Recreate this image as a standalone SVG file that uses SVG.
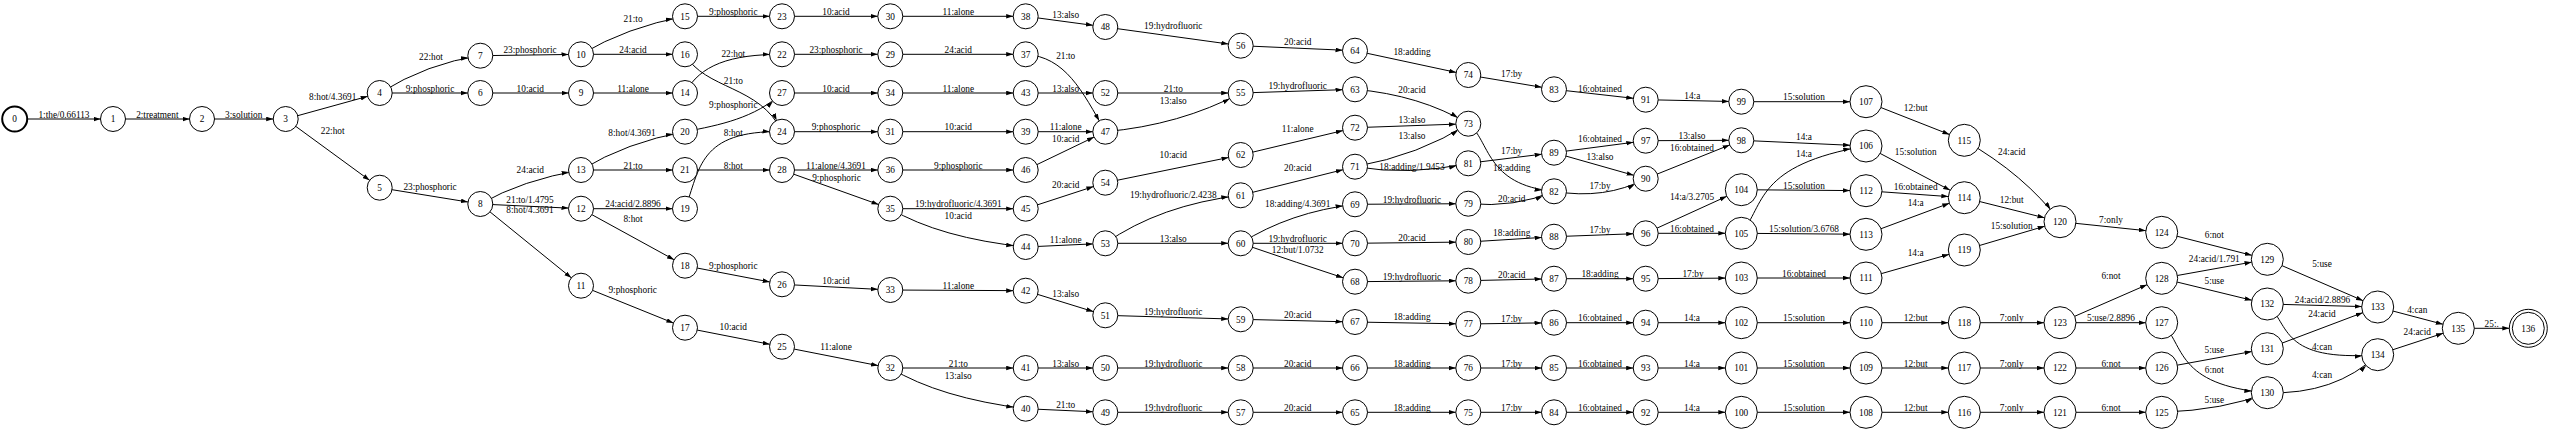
<svg xmlns="http://www.w3.org/2000/svg" width="2550" height="431" viewBox="0 0 2550 431">
<style>
text{font-family:"Liberation Serif","Times New Roman",serif;font-size:9.3px;fill:#000}
#edges path{fill:none;stroke:#000;stroke-width:1}
#edges text{text-anchor:middle}
.n circle{fill:#fff;stroke:#000;stroke-width:1}
.n text{text-anchor:middle}
</style>
<defs>
<marker id="a12" markerUnits="userSpaceOnUse" markerWidth="8" markerHeight="5" refX="19.5" refY="2.3" orient="auto"><path d="M0,0L7,2.3L0,4.6z" fill="#000"/></marker>
<marker id="a16" markerUnits="userSpaceOnUse" markerWidth="8" markerHeight="5" refX="23" refY="2.3" orient="auto"><path d="M0,0L7,2.3L0,4.6z" fill="#000"/></marker>
<marker id="a19" markerUnits="userSpaceOnUse" markerWidth="8" markerHeight="5" refX="26" refY="2.3" orient="auto"><path d="M0,0L7,2.3L0,4.6z" fill="#000"/></marker>
</defs>
<rect width="2550" height="431" fill="#fff"/>
<g id="edges">
<path d="M14.7,119L113,119" marker-end="url(#a12)"/><text x="64" y="117.5">1:the/0.66113</text>
<path d="M113,119L202,119" marker-end="url(#a12)"/><text x="157.3" y="117.5">2:treatment</text>
<path d="M202,119L285.7,119" marker-end="url(#a12)"/><text x="243.7" y="117.5">3:solution</text>
<path d="M285.7,119L379.7,93" marker-end="url(#a12)"/><text x="332.7" y="100">8:hot/4.3691</text>
<path d="M285.7,119L379.7,187.7" marker-end="url(#a12)"/><text x="332.7" y="134">22:hot</text>
<path d="M379.7,93Q428,63 480.3,55.7" marker-end="url(#a12)"/><text x="431" y="60">22:hot</text>
<path d="M379.7,93L480.3,93" marker-end="url(#a12)"/><text x="430" y="91.5">9:phosphoric</text>
<path d="M379.7,187.7L480.3,204" marker-end="url(#a12)"/><text x="430" y="190">23:phosphoric</text>
<path d="M480.3,55.7L581,54.3" marker-end="url(#a12)"/><text x="530" y="53">23:phosphoric</text>
<path d="M480.3,93L581,93" marker-end="url(#a12)"/><text x="530.3" y="91.5">10:acid</text>
<path d="M480.3,204Q522,180 581,170" marker-end="url(#a12)"/><text x="530.3" y="173">24:acid</text>
<path d="M480.3,204L581,208.7" marker-end="url(#a12)"/><text x="530" y="203">21:to/1.4795</text>
<path d="M480.3,204L581,285.7" marker-end="url(#a12)"/><text x="530" y="212.5">8:hot/4.3691</text>
<path d="M581,54.3Q627,27 685,16.3" marker-end="url(#a12)"/><text x="633" y="21.5">21:to</text>
<path d="M581,54.3L685,54.3" marker-end="url(#a12)"/><text x="633" y="53">24:acid</text>
<path d="M581,93L685,93" marker-end="url(#a12)"/><text x="633" y="91.5">11:alone</text>
<path d="M581,170Q627,142 685,131.7" marker-end="url(#a12)"/><text x="632" y="136">8:hot/4.3691</text>
<path d="M581,170L685,170" marker-end="url(#a12)"/><text x="633" y="168.5">21:to</text>
<path d="M581,208.7L685,208.7" marker-end="url(#a12)"/><text x="633" y="207">24:acid/2.8896</text>
<path d="M581,208.7L685,265.7" marker-end="url(#a12)"/><text x="633" y="221.5">8:hot</text>
<path d="M581,285.7L685,327.7" marker-end="url(#a12)"/><text x="632.7" y="293">9:phosphoric</text>
<path d="M685,16.3L782,16.3" marker-end="url(#a12)"/><text x="733.3" y="15">9:phosphoric</text>
<path d="M685,54.3C705,90 760,85 782,131.7" marker-end="url(#a12)"/><text x="733.3" y="84">21:to</text>
<path d="M685,93C700,65 730,54.3 782,54.3" marker-end="url(#a12)"/><text x="733.3" y="56.5">22:hot</text>
<path d="M685,131.7C720,125 755,118 782,93" marker-end="url(#a12)"/><text x="733.3" y="107.5">9:phosphoric</text>
<path d="M685,208.7C700,170 698,130 782,131.7" marker-end="url(#a12)"/><text x="733.3" y="136">8:hot</text>
<path d="M685,170L782,170" marker-end="url(#a12)"/><text x="733.3" y="168.5">8:hot</text>
<path d="M685,265.7L782,284.3" marker-end="url(#a12)"/><text x="733.3" y="268.5">9:phosphoric</text>
<path d="M685,327.7L782,346.7" marker-end="url(#a12)"/><text x="733.3" y="330">10:acid</text>
<path d="M782,16.3L890.3,16.3" marker-end="url(#a12)"/><text x="836" y="15">10:acid</text>
<path d="M782,54.3L890.3,54.3" marker-end="url(#a12)"/><text x="836" y="53">23:phosphoric</text>
<path d="M782,93L890.3,93" marker-end="url(#a12)"/><text x="836" y="91.5">10:acid</text>
<path d="M782,131.7L890.3,131.7" marker-end="url(#a12)"/><text x="836" y="130">9:phosphoric</text>
<path d="M782,170L890.3,170" marker-end="url(#a12)"/><text x="836" y="168.5">11:alone/4.3691</text>
<path d="M782,170L890.3,208.7" marker-end="url(#a12)"/><text x="836.5" y="181">9:phosphoric</text>
<path d="M782,284.3L890.3,290" marker-end="url(#a12)"/><text x="836" y="284">10:acid</text>
<path d="M782,346.7L890.3,368" marker-end="url(#a12)"/><text x="836" y="350">11:alone</text>
<path d="M890.3,16.3L1025.7,16.3" marker-end="url(#a12)"/><text x="958.3" y="15">11:alone</text>
<path d="M890.3,54.3L1025.7,54.3" marker-end="url(#a12)"/><text x="958.3" y="53">24:acid</text>
<path d="M890.3,93L1025.7,93" marker-end="url(#a12)"/><text x="958.3" y="91.5">11:alone</text>
<path d="M890.3,131.7L1025.7,131.7" marker-end="url(#a12)"/><text x="958.3" y="130">10:acid</text>
<path d="M890.3,170L1025.7,170" marker-end="url(#a12)"/><text x="958.3" y="168.5">9:phosphoric</text>
<path d="M890.3,208.7L1025.7,208.7" marker-end="url(#a12)"/><text x="958.3" y="207">19:hydrofluoric/4.3691</text>
<path d="M890.3,208.7Q940,238 1025.7,247" marker-end="url(#a12)"/><text x="958.3" y="219">10:acid</text>
<path d="M890.3,290L1025.7,290.7" marker-end="url(#a12)"/><text x="958.3" y="288.5">11:alone</text>
<path d="M890.3,368L1025.7,368" marker-end="url(#a12)"/><text x="958.3" y="366.5">21:to</text>
<path d="M890.3,368Q940,398 1025.7,408.7" marker-end="url(#a12)"/><text x="958.3" y="379">13:also</text>
<path d="M1025.7,16.3L1105.3,27" marker-end="url(#a12)"/><text x="1065.7" y="17.5">13:also</text>
<path d="M1025.7,54.3C1065,57 1082,90 1105.3,131.7" marker-end="url(#a12)"/><text x="1065.7" y="59">21:to</text>
<path d="M1025.7,93L1105.3,93" marker-end="url(#a12)"/><text x="1065.7" y="91.5">13:also</text>
<path d="M1025.7,131.7L1105.3,131.7" marker-end="url(#a12)"/><text x="1065.7" y="130">11:alone</text>
<path d="M1025.7,170L1105.3,131.7" marker-end="url(#a12)"/><text x="1065.7" y="141.5">10:acid</text>
<path d="M1025.7,208.7L1105.3,182.7" marker-end="url(#a12)"/><text x="1065.7" y="188">20:acid</text>
<path d="M1025.7,247L1105.3,243.3" marker-end="url(#a12)"/><text x="1065.7" y="243">11:alone</text>
<path d="M1025.7,290.7L1105.3,315.3" marker-end="url(#a12)"/><text x="1065.7" y="296.5">13:also</text>
<path d="M1025.7,368L1105.3,368" marker-end="url(#a12)"/><text x="1065.7" y="366.5">13:also</text>
<path d="M1025.7,408.7L1105.3,412.3" marker-end="url(#a12)"/><text x="1065.7" y="408">21:to</text>
<path d="M1105.3,27L1240.7,45.7" marker-end="url(#a12)"/><text x="1173.3" y="29">19:hydrofluoric</text>
<path d="M1105.3,93L1240.7,93" marker-end="url(#a12)"/><text x="1173.3" y="91.5">21:to</text>
<path d="M1105.3,131.7Q1180,125 1240.7,93" marker-end="url(#a12)"/><text x="1173.3" y="104">13:also</text>
<path d="M1105.3,182.7L1240.7,155" marker-end="url(#a12)"/><text x="1173.3" y="158">10:acid</text>
<path d="M1105.3,243.3Q1160,205 1240.7,195.3" marker-end="url(#a12)"/><text x="1173.3" y="198">19:hydrofluoric/2.4238</text>
<path d="M1105.3,243.3L1240.7,243.3" marker-end="url(#a12)"/><text x="1173.3" y="241.8">13:also</text>
<path d="M1105.3,315.3L1240.7,319.3" marker-end="url(#a12)"/><text x="1173.3" y="315">19:hydrofluoric</text>
<path d="M1105.3,368L1240.7,368" marker-end="url(#a12)"/><text x="1173.3" y="366.5">19:hydrofluoric</text>
<path d="M1105.3,412.3L1240.7,412.3" marker-end="url(#a12)"/><text x="1173.3" y="410.5">19:hydrofluoric</text>
<path d="M1240.7,45.7L1355,50.7" marker-end="url(#a12)"/><text x="1297.7" y="45">20:acid</text>
<path d="M1240.7,93L1355,89.3" marker-end="url(#a12)"/><text x="1297.7" y="89">19:hydrofluoric</text>
<path d="M1240.7,155L1355,127.7" marker-end="url(#a12)"/><text x="1297.7" y="132">11:alone</text>
<path d="M1240.7,195.3L1355,166.7" marker-end="url(#a12)"/><text x="1297.7" y="171">20:acid</text>
<path d="M1240.7,243.3Q1290,212 1355,204.3" marker-end="url(#a12)"/><text x="1297.7" y="207">18:adding/4.3691</text>
<path d="M1240.7,243.3L1355,243.3" marker-end="url(#a12)"/><text x="1297.7" y="241.8">19:hydrofluoric</text>
<path d="M1240.7,243.3Q1295,262 1355,281.7" marker-end="url(#a12)"/><text x="1297.7" y="253">12:but/1.0732</text>
<path d="M1240.7,319.3L1355,322" marker-end="url(#a12)"/><text x="1297.7" y="318">20:acid</text>
<path d="M1240.7,368L1355,368" marker-end="url(#a12)"/><text x="1297.7" y="366.5">20:acid</text>
<path d="M1240.7,412.3L1355,412.3" marker-end="url(#a12)"/><text x="1297.7" y="410.5">20:acid</text>
<path d="M1355,50.7L1468.3,75" marker-end="url(#a12)"/><text x="1412" y="55">18:adding</text>
<path d="M1355,89.3Q1420,95 1468.3,123.7" marker-end="url(#a12)"/><text x="1412" y="92.5">20:acid</text>
<path d="M1355,127.7L1468.3,123.7" marker-end="url(#a12)"/><text x="1412" y="123">13:also</text>
<path d="M1355,166.7Q1420,155 1468.3,123.7" marker-end="url(#a12)"/><text x="1412" y="138.5">13:also</text>
<path d="M1355,166.7Q1410,176 1468.3,163.3" marker-end="url(#a12)"/><text x="1412" y="169.5">18:adding/1.9453</text>
<path d="M1355,204.3L1468.3,203.7" marker-end="url(#a12)"/><text x="1412" y="202.5">19:hydrofluoric</text>
<path d="M1355,243.3L1468.3,242" marker-end="url(#a12)"/><text x="1412" y="241">20:acid</text>
<path d="M1355,281.7L1468.3,280.7" marker-end="url(#a12)"/><text x="1412" y="279.5">19:hydrofluoric</text>
<path d="M1355,322L1468.3,324" marker-end="url(#a12)"/><text x="1412" y="320">18:adding</text>
<path d="M1355,368L1468.3,368" marker-end="url(#a12)"/><text x="1412" y="366.5">18:adding</text>
<path d="M1355,412.3L1468.3,412.3" marker-end="url(#a12)"/><text x="1412" y="410.5">18:adding</text>
<path d="M1468.3,75L1554,89.3" marker-end="url(#a12)"/><text x="1511.7" y="76.5">17:by</text>
<path d="M1468.3,123.7C1490,140 1485,185 1554,191.3" marker-end="url(#a12)"/><text x="1511.7" y="171">18:adding</text>
<path d="M1468.3,163.3L1554,152.7" marker-end="url(#a12)"/><text x="1511.7" y="154">17:by</text>
<path d="M1468.3,203.7Q1515,208 1554,191.3" marker-end="url(#a12)"/><text x="1511.7" y="202">20:acid</text>
<path d="M1468.3,242L1554,236.7" marker-end="url(#a12)"/><text x="1511.7" y="236">18:adding</text>
<path d="M1468.3,280.7L1554,278.7" marker-end="url(#a12)"/><text x="1511.7" y="278">20:acid</text>
<path d="M1468.3,324L1554,322.7" marker-end="url(#a12)"/><text x="1511.7" y="322">17:by</text>
<path d="M1468.3,368L1554,368" marker-end="url(#a12)"/><text x="1511.7" y="366.5">17:by</text>
<path d="M1468.3,412.3L1554,412.3" marker-end="url(#a12)"/><text x="1511.7" y="410.5">17:by</text>
<path d="M1554,89.3L1645.7,99.7" marker-end="url(#a12)"/><text x="1600" y="91.5">16:obtained</text>
<path d="M1554,152.7L1645.7,140.7" marker-end="url(#a12)"/><text x="1600" y="142">16:obtained</text>
<path d="M1554,152.7L1645.7,178.7" marker-end="url(#a12)"/><text x="1600" y="160">13:also</text>
<path d="M1554,191.3Q1605,200 1645.7,178.7" marker-end="url(#a12)"/><text x="1600" y="189">17:by</text>
<path d="M1554,236.7L1645.7,233.3" marker-end="url(#a12)"/><text x="1600" y="233">17:by</text>
<path d="M1554,278.7L1645.7,278.7" marker-end="url(#a12)"/><text x="1600" y="277.2">18:adding</text>
<path d="M1554,322.7L1645.7,322.7" marker-end="url(#a12)"/><text x="1600" y="321.2">16:obtained</text>
<path d="M1554,368L1645.7,368" marker-end="url(#a12)"/><text x="1600" y="366.5">16:obtained</text>
<path d="M1554,412.3L1645.7,412.3" marker-end="url(#a12)"/><text x="1600" y="410.5">16:obtained</text>
<path d="M1645.7,99.7L1741.3,101.7" marker-end="url(#a12)"/><text x="1692.3" y="98.5">14:a</text>
<path d="M1645.7,140.7L1741.3,140.3" marker-end="url(#a12)"/><text x="1692" y="139">13:also</text>
<path d="M1645.7,178.7L1741.3,140.3" marker-end="url(#a12)"/><text x="1692" y="151">16:obtained</text>
<path d="M1645.7,233.3L1741.3,189.7" marker-end="url(#a16)"/><text x="1692" y="200">14:a/3.2705</text>
<path d="M1645.7,233.3L1741.3,233.3" marker-end="url(#a16)"/><text x="1692" y="231.8">16:obtained</text>
<path d="M1645.7,278.7L1741.3,278" marker-end="url(#a16)"/><text x="1693" y="277">17:by</text>
<path d="M1645.7,322.7L1741.3,322.7" marker-end="url(#a16)"/><text x="1692" y="321.2">14:a</text>
<path d="M1645.7,368L1741.3,368" marker-end="url(#a16)"/><text x="1692" y="366.5">14:a</text>
<path d="M1645.7,412.3L1741.3,412.3" marker-end="url(#a16)"/><text x="1692" y="410.5">14:a</text>
<path d="M1741.3,101.7L1866,101.7" marker-end="url(#a16)"/><text x="1804" y="100.2">15:solution</text>
<path d="M1741.3,140.3L1866,146" marker-end="url(#a16)"/><text x="1804" y="140">14:a</text>
<path d="M1741.3,233.3C1765,205 1755,165 1866,146" marker-end="url(#a16)"/><text x="1804" y="156.5">14:a</text>
<path d="M1741.3,189.7L1866,190.7" marker-end="url(#a16)"/><text x="1804" y="188.5">15:solution</text>
<path d="M1741.3,233.3L1866,234.3" marker-end="url(#a16)"/><text x="1804" y="232">15:solution/3.6768</text>
<path d="M1741.3,278L1866,278" marker-end="url(#a16)"/><text x="1804" y="276.5">16:obtained</text>
<path d="M1741.3,322.7L1866,322.7" marker-end="url(#a16)"/><text x="1804" y="321.2">15:solution</text>
<path d="M1741.3,368L1866,368" marker-end="url(#a16)"/><text x="1804" y="366.5">15:solution</text>
<path d="M1741.3,412.3L1866,412.3" marker-end="url(#a16)"/><text x="1804" y="410.5">15:solution</text>
<path d="M1866,101.7L1964.3,140.3" marker-end="url(#a16)"/><text x="1915.7" y="110.5">12:but</text>
<path d="M1866,146L1964.3,197.7" marker-end="url(#a16)"/><text x="1915.7" y="155">15:solution</text>
<path d="M1866,190.7L1964.3,197.7" marker-end="url(#a16)"/><text x="1915.7" y="190">16:obtained</text>
<path d="M1866,234.3L1964.3,197.7" marker-end="url(#a16)"/><text x="1915.7" y="205.5">14:a</text>
<path d="M1866,278L1964.3,250" marker-end="url(#a16)"/><text x="1915.7" y="256">14:a</text>
<path d="M1866,322.7L1964.3,322.7" marker-end="url(#a16)"/><text x="1915.7" y="321.2">12:but</text>
<path d="M1866,368L1964.3,368" marker-end="url(#a16)"/><text x="1915.7" y="366.5">12:but</text>
<path d="M1866,412.3L1964.3,412.3" marker-end="url(#a16)"/><text x="1915.7" y="410.5">12:but</text>
<path d="M1964.3,140.3Q2025,175 2060,221.7" marker-end="url(#a16)"/><text x="2011.7" y="155">24:acid</text>
<path d="M1964.3,197.7L2060,221.7" marker-end="url(#a16)"/><text x="2011.7" y="203">12:but</text>
<path d="M1964.3,250L2060,221.7" marker-end="url(#a16)"/><text x="2011.7" y="229">15:solution</text>
<path d="M1964.3,322.7L2060,322.7" marker-end="url(#a16)"/><text x="2011.7" y="321.2">7:only</text>
<path d="M1964.3,368L2060,368" marker-end="url(#a16)"/><text x="2011.7" y="366.5">7:only</text>
<path d="M1964.3,412.3L2060,412.3" marker-end="url(#a16)"/><text x="2011.7" y="410.5">7:only</text>
<path d="M2060,221.7L2161.7,232.3" marker-end="url(#a16)"/><text x="2111" y="223">7:only</text>
<path d="M2060,322.7L2161.7,278.3" marker-end="url(#a16)"/><text x="2111" y="279">6:not</text>
<path d="M2060,322.7L2161.7,322.7" marker-end="url(#a16)"/><text x="2111" y="321.2">5:use/2.8896</text>
<path d="M2060,368L2161.7,368" marker-end="url(#a16)"/><text x="2111" y="366.5">6:not</text>
<path d="M2060,412.3L2161.7,412.3" marker-end="url(#a16)"/><text x="2111" y="410.5">6:not</text>
<path d="M2161.7,232.3L2267.3,259.3" marker-end="url(#a16)"/><text x="2214.3" y="238">6:not</text>
<path d="M2161.7,278.3L2267.3,259.3" marker-end="url(#a16)"/><text x="2214.3" y="262">24:acid/1.791</text>
<path d="M2161.7,278.3L2267.3,304" marker-end="url(#a16)"/><text x="2214.3" y="284">5:use</text>
<path d="M2161.7,322.7C2185,345 2175,385 2267.3,392.7" marker-end="url(#a16)"/><text x="2214.3" y="373">6:not</text>
<path d="M2161.7,368L2267.3,348.7" marker-end="url(#a16)"/><text x="2214.3" y="352.5">5:use</text>
<path d="M2161.7,412.3Q2225,410 2267.3,392.7" marker-end="url(#a16)"/><text x="2214.3" y="402.5">5:use</text>
<path d="M2267.3,259.3L2377.7,307" marker-end="url(#a16)"/><text x="2322" y="267">5:use</text>
<path d="M2267.3,304L2377.7,307" marker-end="url(#a16)"/><text x="2322.5" y="303">24:acid/2.8896</text>
<path d="M2267.3,348.7L2377.7,307" marker-end="url(#a16)"/><text x="2322" y="317">24:acid</text>
<path d="M2267.3,304C2290,325 2280,362 2377.7,354.7" marker-end="url(#a16)"/><text x="2322" y="350">4:can</text>
<path d="M2267.3,392.7Q2335,395 2377.7,354.7" marker-end="url(#a16)"/><text x="2322" y="378">4:can</text>
<path d="M2377.7,307L2458.3,328.3" marker-end="url(#a16)"/><text x="2417.3" y="313">4:can</text>
<path d="M2377.7,354.7L2458.3,328.3" marker-end="url(#a16)"/><text x="2417.3" y="335">24:acid</text>
<path d="M2458.3,328.3L2528.3,328.3" marker-end="url(#a19)"/><text x="2491.7" y="327">25:.</text>
</g>
<g id="n0" class="n"><circle cx="14.7" cy="119" r="12.5" style="stroke-width:2"/><text x="14.7" y="122.2">0</text></g>
<g id="n1" class="n"><circle cx="113" cy="119" r="12.5"/><text x="113" y="122.2">1</text></g>
<g id="n2" class="n"><circle cx="202" cy="119" r="12.5"/><text x="202" y="122.2">2</text></g>
<g id="n3" class="n"><circle cx="285.7" cy="119" r="12.5"/><text x="285.7" y="122.2">3</text></g>
<g id="n4" class="n"><circle cx="379.7" cy="93" r="12.5"/><text x="379.7" y="96.2">4</text></g>
<g id="n5" class="n"><circle cx="379.7" cy="187.7" r="12.5"/><text x="379.7" y="190.9">5</text></g>
<g id="n6" class="n"><circle cx="480.3" cy="93" r="12.5"/><text x="480.3" y="96.2">6</text></g>
<g id="n7" class="n"><circle cx="480.3" cy="55.7" r="12.5"/><text x="480.3" y="58.9">7</text></g>
<g id="n8" class="n"><circle cx="480.3" cy="204" r="12.5"/><text x="480.3" y="207.2">8</text></g>
<g id="n9" class="n"><circle cx="581" cy="93" r="12.5"/><text x="581" y="96.2">9</text></g>
<g id="n10" class="n"><circle cx="581" cy="54.3" r="12.5"/><text x="581" y="57.5">10</text></g>
<g id="n11" class="n"><circle cx="581" cy="285.7" r="12.5"/><text x="581" y="288.9">11</text></g>
<g id="n12" class="n"><circle cx="581" cy="208.7" r="12.5"/><text x="581" y="211.9">12</text></g>
<g id="n13" class="n"><circle cx="581" cy="170" r="12.5"/><text x="581" y="173.2">13</text></g>
<g id="n14" class="n"><circle cx="685" cy="93" r="12.5"/><text x="685" y="96.2">14</text></g>
<g id="n15" class="n"><circle cx="685" cy="16.3" r="12.5"/><text x="685" y="19.5">15</text></g>
<g id="n16" class="n"><circle cx="685" cy="54.3" r="12.5"/><text x="685" y="57.5">16</text></g>
<g id="n17" class="n"><circle cx="685" cy="327.7" r="12.5"/><text x="685" y="330.9">17</text></g>
<g id="n18" class="n"><circle cx="685" cy="265.7" r="12.5"/><text x="685" y="268.9">18</text></g>
<g id="n19" class="n"><circle cx="685" cy="208.7" r="12.5"/><text x="685" y="211.9">19</text></g>
<g id="n20" class="n"><circle cx="685" cy="131.7" r="12.5"/><text x="685" y="134.9">20</text></g>
<g id="n21" class="n"><circle cx="685" cy="170" r="12.5"/><text x="685" y="173.2">21</text></g>
<g id="n22" class="n"><circle cx="782" cy="54.3" r="12.5"/><text x="782" y="57.5">22</text></g>
<g id="n23" class="n"><circle cx="782" cy="16.3" r="12.5"/><text x="782" y="19.5">23</text></g>
<g id="n24" class="n"><circle cx="782" cy="131.7" r="12.5"/><text x="782" y="134.9">24</text></g>
<g id="n25" class="n"><circle cx="782" cy="346.7" r="12.5"/><text x="782" y="349.9">25</text></g>
<g id="n26" class="n"><circle cx="782" cy="284.3" r="12.5"/><text x="782" y="287.5">26</text></g>
<g id="n27" class="n"><circle cx="782" cy="93" r="12.5"/><text x="782" y="96.2">27</text></g>
<g id="n28" class="n"><circle cx="782" cy="170" r="12.5"/><text x="782" y="173.2">28</text></g>
<g id="n29" class="n"><circle cx="890.3" cy="54.3" r="12.5"/><text x="890.3" y="57.5">29</text></g>
<g id="n30" class="n"><circle cx="890.3" cy="16.3" r="12.5"/><text x="890.3" y="19.5">30</text></g>
<g id="n31" class="n"><circle cx="890.3" cy="131.7" r="12.5"/><text x="890.3" y="134.9">31</text></g>
<g id="n32" class="n"><circle cx="890.3" cy="368" r="12.5"/><text x="890.3" y="371.2">32</text></g>
<g id="n33" class="n"><circle cx="890.3" cy="290" r="12.5"/><text x="890.3" y="293.2">33</text></g>
<g id="n34" class="n"><circle cx="890.3" cy="93" r="12.5"/><text x="890.3" y="96.2">34</text></g>
<g id="n35" class="n"><circle cx="890.3" cy="208.7" r="12.5"/><text x="890.3" y="211.9">35</text></g>
<g id="n36" class="n"><circle cx="890.3" cy="170" r="12.5"/><text x="890.3" y="173.2">36</text></g>
<g id="n37" class="n"><circle cx="1025.7" cy="54.3" r="12.5"/><text x="1025.7" y="57.5">37</text></g>
<g id="n38" class="n"><circle cx="1025.7" cy="16.3" r="12.5"/><text x="1025.7" y="19.5">38</text></g>
<g id="n39" class="n"><circle cx="1025.7" cy="131.7" r="12.5"/><text x="1025.7" y="134.9">39</text></g>
<g id="n40" class="n"><circle cx="1025.7" cy="408.7" r="12.5"/><text x="1025.7" y="411.9">40</text></g>
<g id="n41" class="n"><circle cx="1025.7" cy="368" r="12.5"/><text x="1025.7" y="371.2">41</text></g>
<g id="n42" class="n"><circle cx="1025.7" cy="290.7" r="12.5"/><text x="1025.7" y="293.9">42</text></g>
<g id="n43" class="n"><circle cx="1025.7" cy="93" r="12.5"/><text x="1025.7" y="96.2">43</text></g>
<g id="n44" class="n"><circle cx="1025.7" cy="247" r="12.5"/><text x="1025.7" y="250.2">44</text></g>
<g id="n45" class="n"><circle cx="1025.7" cy="208.7" r="12.5"/><text x="1025.7" y="211.9">45</text></g>
<g id="n46" class="n"><circle cx="1025.7" cy="170" r="12.5"/><text x="1025.7" y="173.2">46</text></g>
<g id="n47" class="n"><circle cx="1105.3" cy="131.7" r="12.5"/><text x="1105.3" y="134.9">47</text></g>
<g id="n48" class="n"><circle cx="1105.3" cy="27" r="12.5"/><text x="1105.3" y="30.2">48</text></g>
<g id="n49" class="n"><circle cx="1105.3" cy="412.3" r="12.5"/><text x="1105.3" y="415.5">49</text></g>
<g id="n50" class="n"><circle cx="1105.3" cy="368" r="12.5"/><text x="1105.3" y="371.2">50</text></g>
<g id="n51" class="n"><circle cx="1105.3" cy="315.3" r="12.5"/><text x="1105.3" y="318.5">51</text></g>
<g id="n52" class="n"><circle cx="1105.3" cy="93" r="12.5"/><text x="1105.3" y="96.2">52</text></g>
<g id="n53" class="n"><circle cx="1105.3" cy="243.3" r="12.5"/><text x="1105.3" y="246.5">53</text></g>
<g id="n54" class="n"><circle cx="1105.3" cy="182.7" r="12.5"/><text x="1105.3" y="185.9">54</text></g>
<g id="n55" class="n"><circle cx="1240.7" cy="93" r="12.5"/><text x="1240.7" y="96.2">55</text></g>
<g id="n56" class="n"><circle cx="1240.7" cy="45.7" r="12.5"/><text x="1240.7" y="48.9">56</text></g>
<g id="n57" class="n"><circle cx="1240.7" cy="412.3" r="12.5"/><text x="1240.7" y="415.5">57</text></g>
<g id="n58" class="n"><circle cx="1240.7" cy="368" r="12.5"/><text x="1240.7" y="371.2">58</text></g>
<g id="n59" class="n"><circle cx="1240.7" cy="319.3" r="12.5"/><text x="1240.7" y="322.5">59</text></g>
<g id="n60" class="n"><circle cx="1240.7" cy="243.3" r="12.5"/><text x="1240.7" y="246.5">60</text></g>
<g id="n61" class="n"><circle cx="1240.7" cy="195.3" r="12.5"/><text x="1240.7" y="198.5">61</text></g>
<g id="n62" class="n"><circle cx="1240.7" cy="155" r="12.5"/><text x="1240.7" y="158.2">62</text></g>
<g id="n63" class="n"><circle cx="1355" cy="89.3" r="12.5"/><text x="1355" y="92.5">63</text></g>
<g id="n64" class="n"><circle cx="1355" cy="50.7" r="12.5"/><text x="1355" y="53.9">64</text></g>
<g id="n65" class="n"><circle cx="1355" cy="412.3" r="12.5"/><text x="1355" y="415.5">65</text></g>
<g id="n66" class="n"><circle cx="1355" cy="368" r="12.5"/><text x="1355" y="371.2">66</text></g>
<g id="n67" class="n"><circle cx="1355" cy="322" r="12.5"/><text x="1355" y="325.2">67</text></g>
<g id="n68" class="n"><circle cx="1355" cy="281.7" r="12.5"/><text x="1355" y="284.9">68</text></g>
<g id="n69" class="n"><circle cx="1355" cy="204.3" r="12.5"/><text x="1355" y="207.5">69</text></g>
<g id="n70" class="n"><circle cx="1355" cy="243.3" r="12.5"/><text x="1355" y="246.5">70</text></g>
<g id="n71" class="n"><circle cx="1355" cy="166.7" r="12.5"/><text x="1355" y="169.9">71</text></g>
<g id="n72" class="n"><circle cx="1355" cy="127.7" r="12.5"/><text x="1355" y="130.9">72</text></g>
<g id="n73" class="n"><circle cx="1468.3" cy="123.7" r="12.5"/><text x="1468.3" y="126.9">73</text></g>
<g id="n74" class="n"><circle cx="1468.3" cy="75" r="12.5"/><text x="1468.3" y="78.2">74</text></g>
<g id="n75" class="n"><circle cx="1468.3" cy="412.3" r="12.5"/><text x="1468.3" y="415.5">75</text></g>
<g id="n76" class="n"><circle cx="1468.3" cy="368" r="12.5"/><text x="1468.3" y="371.2">76</text></g>
<g id="n77" class="n"><circle cx="1468.3" cy="324" r="12.5"/><text x="1468.3" y="327.2">77</text></g>
<g id="n78" class="n"><circle cx="1468.3" cy="280.7" r="12.5"/><text x="1468.3" y="283.9">78</text></g>
<g id="n79" class="n"><circle cx="1468.3" cy="203.7" r="12.5"/><text x="1468.3" y="206.9">79</text></g>
<g id="n80" class="n"><circle cx="1468.3" cy="242" r="12.5"/><text x="1468.3" y="245.2">80</text></g>
<g id="n81" class="n"><circle cx="1468.3" cy="163.3" r="12.5"/><text x="1468.3" y="166.5">81</text></g>
<g id="n82" class="n"><circle cx="1554" cy="191.3" r="12.5"/><text x="1554" y="194.5">82</text></g>
<g id="n83" class="n"><circle cx="1554" cy="89.3" r="12.5"/><text x="1554" y="92.5">83</text></g>
<g id="n84" class="n"><circle cx="1554" cy="412.3" r="12.5"/><text x="1554" y="415.5">84</text></g>
<g id="n85" class="n"><circle cx="1554" cy="368" r="12.5"/><text x="1554" y="371.2">85</text></g>
<g id="n86" class="n"><circle cx="1554" cy="322.7" r="12.5"/><text x="1554" y="325.9">86</text></g>
<g id="n87" class="n"><circle cx="1554" cy="278.7" r="12.5"/><text x="1554" y="281.9">87</text></g>
<g id="n88" class="n"><circle cx="1554" cy="236.7" r="12.5"/><text x="1554" y="239.9">88</text></g>
<g id="n89" class="n"><circle cx="1554" cy="152.7" r="12.5"/><text x="1554" y="155.9">89</text></g>
<g id="n90" class="n"><circle cx="1645.7" cy="178.7" r="12.5"/><text x="1645.7" y="181.9">90</text></g>
<g id="n91" class="n"><circle cx="1645.7" cy="99.7" r="12.5"/><text x="1645.7" y="102.9">91</text></g>
<g id="n92" class="n"><circle cx="1645.7" cy="412.3" r="12.5"/><text x="1645.7" y="415.5">92</text></g>
<g id="n93" class="n"><circle cx="1645.7" cy="368" r="12.5"/><text x="1645.7" y="371.2">93</text></g>
<g id="n94" class="n"><circle cx="1645.7" cy="322.7" r="12.5"/><text x="1645.7" y="325.9">94</text></g>
<g id="n95" class="n"><circle cx="1645.7" cy="278.7" r="12.5"/><text x="1645.7" y="281.9">95</text></g>
<g id="n96" class="n"><circle cx="1645.7" cy="233.3" r="12.5"/><text x="1645.7" y="236.5">96</text></g>
<g id="n97" class="n"><circle cx="1645.7" cy="140.7" r="12.5"/><text x="1645.7" y="143.9">97</text></g>
<g id="n98" class="n"><circle cx="1741.3" cy="140.3" r="12.5"/><text x="1741.3" y="143.5">98</text></g>
<g id="n99" class="n"><circle cx="1741.3" cy="101.7" r="12.5"/><text x="1741.3" y="104.9">99</text></g>
<g id="n100" class="n"><circle cx="1741.3" cy="412.3" r="16"/><text x="1741.3" y="415.5">100</text></g>
<g id="n101" class="n"><circle cx="1741.3" cy="368" r="16"/><text x="1741.3" y="371.2">101</text></g>
<g id="n102" class="n"><circle cx="1741.3" cy="322.7" r="16"/><text x="1741.3" y="325.9">102</text></g>
<g id="n103" class="n"><circle cx="1741.3" cy="278" r="16"/><text x="1741.3" y="281.2">103</text></g>
<g id="n104" class="n"><circle cx="1741.3" cy="189.7" r="16"/><text x="1741.3" y="192.9">104</text></g>
<g id="n105" class="n"><circle cx="1741.3" cy="233.3" r="16"/><text x="1741.3" y="236.5">105</text></g>
<g id="n106" class="n"><circle cx="1866" cy="146" r="16"/><text x="1866" y="149.2">106</text></g>
<g id="n107" class="n"><circle cx="1866" cy="101.7" r="16"/><text x="1866" y="104.9">107</text></g>
<g id="n108" class="n"><circle cx="1866" cy="412.3" r="16"/><text x="1866" y="415.5">108</text></g>
<g id="n109" class="n"><circle cx="1866" cy="368" r="16"/><text x="1866" y="371.2">109</text></g>
<g id="n110" class="n"><circle cx="1866" cy="322.7" r="16"/><text x="1866" y="325.9">110</text></g>
<g id="n111" class="n"><circle cx="1866" cy="278" r="16"/><text x="1866" y="281.2">111</text></g>
<g id="n112" class="n"><circle cx="1866" cy="190.7" r="16"/><text x="1866" y="193.9">112</text></g>
<g id="n113" class="n"><circle cx="1866" cy="234.3" r="16"/><text x="1866" y="237.5">113</text></g>
<g id="n114" class="n"><circle cx="1964.3" cy="197.7" r="16"/><text x="1964.3" y="200.9">114</text></g>
<g id="n115" class="n"><circle cx="1964.3" cy="140.3" r="16"/><text x="1964.3" y="143.5">115</text></g>
<g id="n116" class="n"><circle cx="1964.3" cy="412.3" r="16"/><text x="1964.3" y="415.5">116</text></g>
<g id="n117" class="n"><circle cx="1964.3" cy="368" r="16"/><text x="1964.3" y="371.2">117</text></g>
<g id="n118" class="n"><circle cx="1964.3" cy="322.7" r="16"/><text x="1964.3" y="325.9">118</text></g>
<g id="n119" class="n"><circle cx="1964.3" cy="250" r="16"/><text x="1964.3" y="253.2">119</text></g>
<g id="n120" class="n"><circle cx="2060" cy="221.7" r="16"/><text x="2060" y="224.9">120</text></g>
<g id="n121" class="n"><circle cx="2060" cy="412.3" r="16"/><text x="2060" y="415.5">121</text></g>
<g id="n122" class="n"><circle cx="2060" cy="368" r="16"/><text x="2060" y="371.2">122</text></g>
<g id="n123" class="n"><circle cx="2060" cy="322.7" r="16"/><text x="2060" y="325.9">123</text></g>
<g id="n124" class="n"><circle cx="2161.7" cy="232.3" r="16"/><text x="2161.7" y="235.5">124</text></g>
<g id="n125" class="n"><circle cx="2161.7" cy="412.3" r="16"/><text x="2161.7" y="415.5">125</text></g>
<g id="n126" class="n"><circle cx="2161.7" cy="368" r="16"/><text x="2161.7" y="371.2">126</text></g>
<g id="n127" class="n"><circle cx="2161.7" cy="322.7" r="16"/><text x="2161.7" y="325.9">127</text></g>
<g id="n128" class="n"><circle cx="2161.7" cy="278.3" r="16"/><text x="2161.7" y="281.5">128</text></g>
<g id="n129" class="n"><circle cx="2267.3" cy="259.3" r="16"/><text x="2267.3" y="262.5">129</text></g>
<g id="n130" class="n"><circle cx="2267.3" cy="392.7" r="16"/><text x="2267.3" y="395.9">130</text></g>
<g id="n131" class="n"><circle cx="2267.3" cy="348.7" r="16"/><text x="2267.3" y="351.9">131</text></g>
<g id="n132" class="n"><circle cx="2267.3" cy="304" r="16"/><text x="2267.3" y="307.2">132</text></g>
<g id="n133" class="n"><circle cx="2377.7" cy="307" r="16"/><text x="2377.7" y="310.2">133</text></g>
<g id="n134" class="n"><circle cx="2377.7" cy="354.7" r="16"/><text x="2377.7" y="357.9">134</text></g>
<g id="n135" class="n"><circle cx="2458.3" cy="328.3" r="16"/><text x="2458.3" y="331.5">135</text></g>
<g id="n136" class="n"><circle cx="2528.3" cy="328.3" r="19"/><circle cx="2528.3" cy="328.3" r="16"/><text x="2528.3" y="331.5">136</text></g>
</svg>
